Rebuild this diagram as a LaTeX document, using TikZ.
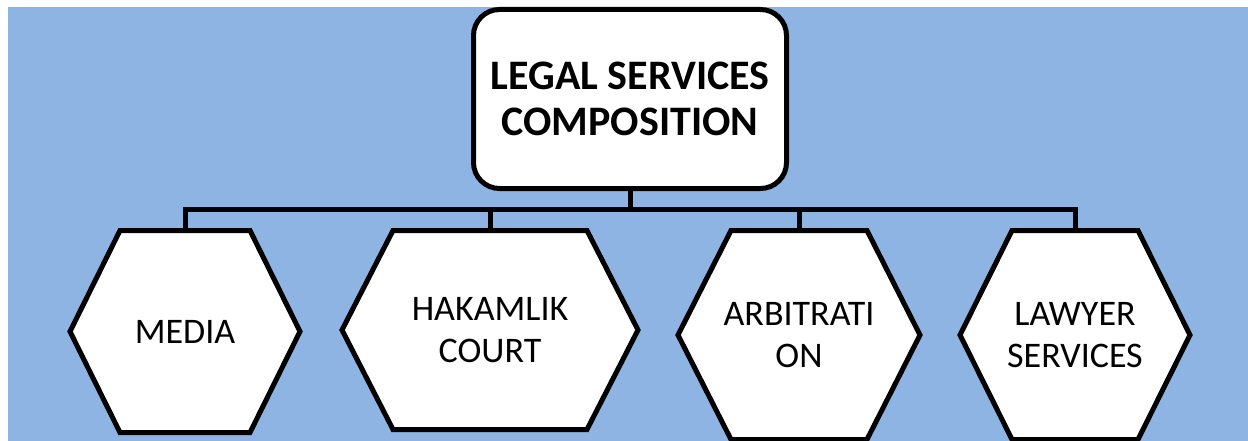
\documentclass[tikz,border=0pt]{standalone}
\usepackage{fontspec}
\setmainfont{Carlito}
\definecolor{bgblue}{HTML}{8EB4E3}
\tikzset{
  boxline/.style={draw=black, line width=5pt, fill=white},
  conn/.style={draw=black, line width=5pt, line join=miter, line cap=rect},
  roottext/.style={font=\fontsize{42}{46}\selectfont\bfseries, align=center, inner sep=0pt},
  childtext/.style={font=\fontsize{36}{42}\selectfont, align=center, inner sep=0pt},
}
% hexagon: name, cx, cy, half width, half height, half top width, text
\newcommand{\hexnode}[7]{%
  \path[boxline] (#2-#4,#3) -- (#2-#6,#3-#5) -- (#2+#6,#3-#5) -- (#2+#4,#3)
     -- (#2+#6,#3+#5) -- (#2-#6,#3+#5) -- cycle;
  \coordinate (#1-top) at (#2,#3-#5);
  \node[childtext] (#1) at (#2,#3) {#7};
}
\begin{document}
\begin{tikzpicture}[x=1pt, y=-1pt]
  \useasboundingbox (0,0) rectangle (1248,441);
  \fill[bgblue] (8,7) rectangle (1248,441);
  % hexagons
  \hexnode{media}{185}{331.5}{115}{101}{65}{MEDIA}
  \hexnode{court}{490}{330}{148}{99.5}{97}{HAKAMLIK\\COURT}
  \hexnode{arb}{799}{335}{121}{104.5}{68}{ARBITRATI\\ON}
  \hexnode{lawyer}{1075}{335}{115}{104.5}{63}{LAWYER\\SERVICES}
  % root
  \node[boxline, rounded corners=26pt, minimum width=313pt, minimum height=179pt,
        roottext] (root) at (630,99) {LEGAL SERVICES\\COMPOSITION};
  \coordinate (bus) at (630,209);
  % connectors
  \draw[conn] (root.south) -- (bus);
  \draw[conn] (media-top) -- (media-top |- bus) -- (lawyer-top |- bus) -- (lawyer-top);
  \draw[conn] (court-top) -- (court-top |- bus);
  \draw[conn] (arb-top) -- (arb-top |- bus);
\end{tikzpicture}
\end{document}
